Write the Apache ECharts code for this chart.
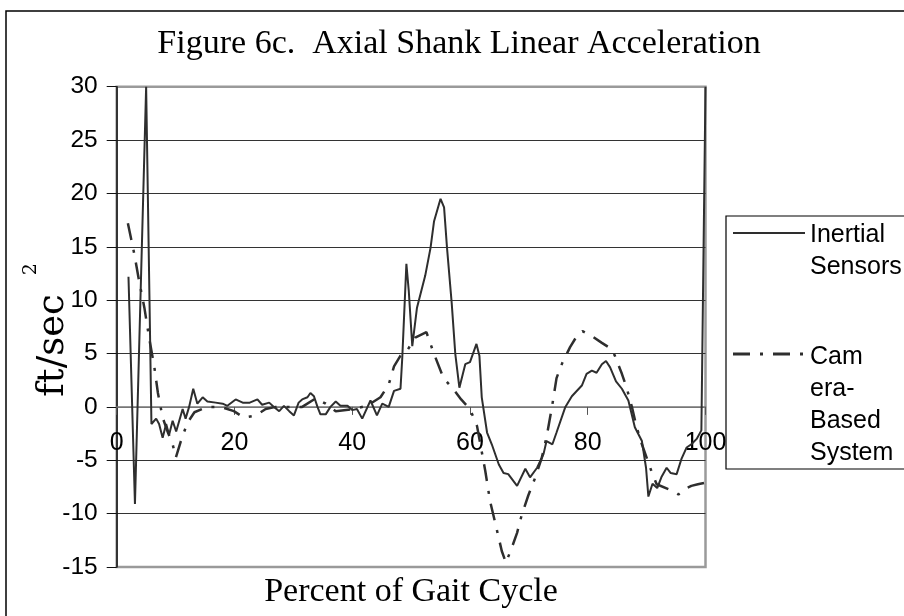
<!DOCTYPE html>
<html>
<head>
<meta charset="utf-8">
<title>Axial Shank Linear Acceleration</title>
<script src="https://cdn.jsdelivr.net/npm/echarts@6/dist/echarts.min.js"></script>
<style>
	html, body { margin: 0; padding: 0; background: #ffffff; }
	#chart { width: 904px; height: 616px; }
</style>
</head>
<body>
<div id="chart"></div>
<script>
	// percent of gait cycle / acceleration (ft/sec^2)
	var inertialX = [2.0, 3.1, 5.0, 5.9, 6.7, 7.2, 7.8, 8.4, 8.9, 9.5, 10.1, 11.2, 11.7, 12.3, 13.0, 13.7, 14.6, 15.4, 16.8, 18.0, 18.8, 20.2,
		21.4, 22.6, 23.9, 24.7, 25.9, 26.7, 27.6, 28.4, 29.3, 30.1, 30.9, 31.5, 32.4, 32.9, 33.5, 34.1, 34.6, 35.5, 36.3, 37.2, 38.0, 39.2,
		40.0, 40.8, 41.7, 43.1, 44.2, 45.1, 46.2, 47.1, 48.2, 48.5, 49.2, 49.6, 50.2, 51.0, 52.4, 53.3, 53.9, 55.0, 55.6, 56.1, 56.9, 57.5,
		58.2, 59.2, 60.0, 61.1, 61.6, 62.0, 62.9, 63.7, 64.9, 65.7, 66.5, 68.0, 69.4, 70.2, 71.4, 72.5, 73.0, 74.0, 74.7, 76.2, 77.3, 79.0,
		79.8, 80.7, 81.5, 82.4, 83.1, 83.8, 84.8, 85.8, 86.9, 88.0, 89.2, 89.9, 90.3, 91.0, 91.8, 92.5, 93.4, 94.1, 95.1, 95.9, 96.8, 97.6,
		98.5, 99.3, 100];
	var inertialY = [12.2, -9.1, 30, -1.6, -1.1, -1.6, -2.9, -1.6, -2.6, -1.3, -2.3, -0.2, -1.1, 0, 1.7, 0.3, 0.9, 0.5, 0.4, 0.3, 0.1, 0.7,
		0.4, 0.4, 0.7, 0.2, 0.4, 0, -0.4, 0.1, -0.4, -0.8, 0.4, 0.7, 0.9, 1.3, 1.0, 0, -0.7, -0.7, 0, 0.5, 0.1, 0.1,
		-0.3, -0.2, -1.1, 0.6, -0.8, 0.3, 0, 1.5, 1.7, 4.6, 13.4, 10.9, 5.7, 9.3, 12.3, 14.9, 17.4, 19.5, 18.7, 14.9, 9.7, 5.0,
		1.8, 4.0, 4.2, 5.9, 4.8, 0.9, -2.4, -3.5, -5.4, -6.2, -6.3, -7.4, -5.8, -6.6, -5.7, -4.4, -3.2, -3.5, -2.4, 0, 1.0, 2.0,
		3.1, 3.4, 3.2, 4.0, 4.3, 3.7, 2.4, 1.7, 0.6, -1.9, -3.2, -5.7, -8.4, -7.2, -7.6, -6.6, -5.7, -6.2, -6.3, -4.9, -3.8, -3.5,
		-3.0, -2.2, 30];

	var cameraX = [1.9, 3.0, 3.8, 4.7, 5.5, 6.4, 7.0, 7.8, 8.6, 9.5, 10.05, 10.9, 12.0, 13.2, 15.4, 17.7, 19.9, 21.6, 23.6, 25.3, 27.0,
		28.7, 30.4, 31.5, 33.8, 35.5, 37.2, 40.3, 42.5, 44.8, 46.2, 47.1, 48.2, 49.3, 50.7, 52.6, 53.8, 55.5, 57.2, 58.5, 60.0, 61.2,
		62.6, 63.4, 64.6, 65.4, 66.1, 67.1, 68.0, 68.8, 69.9, 71.1, 72.2, 73.05, 74.0, 74.7, 75.7, 77.0, 78.0, 79.1, 80.8, 82.4, 84.1,
		84.6, 85.8, 86.6, 87.5, 88.3, 89.2, 90.0, 90.8, 91.7, 93.7, 95.4, 96.8, 97.6, 98.7, 100];
	var cameraY = [17.2, 14.3, 11.8, 9.3, 6.5, 3.7, 1.3, -1.0, -2.25, -3.5, -4.75, -3.2, -1.5, -0.5, 0, 0, -0.4, -1.0, -0.8, -0.2, 0,
		0, 0, 0, 0.8, 0.3, -0.4, -0.2, 0.1, 0.9, 2.1, 3.8, 4.8, 5.25, 6.5, 7.0, 5.1, 2.7, 1.65, 0.7, -0.2, -1.8,
		-6.0, -8.8, -11.6, -13.5, -14.6, -13.2, -11.8, -10.1, -8.3, -6.6, -4.75, -2.7, 0.25, 2.7, 4.15, 5.6, 6.5, 7.1, 6.6, 6.0, 5.4,
		4.8, 3.1, 1.8, 0, -1.9, -3.5, -4.75, -6.0, -7.25, -7.7, -8.2, -7.6, -7.4, -7.25, -7.1];

	var xTicks = { min: 0, max: 100, step: 20 };
	var yTicks = { min: -15, max: 30, step: 5 };
	var seriesNames = ['Inertial Sensors', 'Camera-Based System'];

	function pairs(xs, ys) {
		var out = [];
		for (var i = 0; i < xs.length; i++) {
			out.push([xs[i], ys[i]]);
		}
		return out;
	}

	var serif = '"Liberation Serif", "Times New Roman", serif';
	var wideSerif = '"DejaVu Serif", serif';
	var sans = '"Liberation Sans", Arial, sans-serif';
	var lineColor = '#2e2e2e';

	var gridTop = 86.7;
	var gridHeight = 480.3;
	// the x axis sits on y = 0, not on the bottom of the plot
	var zeroOffset = -gridHeight * (0 - yTicks.min) / (yTicks.max - yTicks.min);

	var chart = echarts.init(document.getElementById('chart'), null, { renderer: 'canvas' });

	var option = {
		animation: false,
		backgroundColor: '#ffffff',
		grid: {
			left: 116.7,
			top: gridTop,
			width: 588.8,
			height: gridHeight,
			containLabel: false,
			outerBoundsMode: 'none',
			show: true,
			borderColor: '#9a9a9a',
			borderWidth: 2.5
		},
		xAxis: {
			type: 'value',
			min: xTicks.min,
			max: xTicks.max,
			interval: xTicks.step,
			offset: zeroOffset,
			axisLine: { onZero: false, lineStyle: { color: '#777777', width: 1.5 } },
			axisTick: { show: true, length: 8, lineStyle: { color: '#555555' } },
			axisLabel: { color: '#000000', fontSize: 25, fontFamily: sans, margin: 24 },
			splitLine: { show: false }
		},
		yAxis: {
			type: 'value',
			min: yTicks.min,
			max: yTicks.max,
			interval: yTicks.step,
			axisLine: { show: true, lineStyle: { color: '#111111', width: 1.5 } },
			axisTick: { show: true, length: 10, lineStyle: { color: '#111111' } },
			axisLabel: { color: '#000000', fontSize: 24.5, fontFamily: sans, margin: 19 },
			splitLine: {
				show: true,
				lineStyle: {
					color: ['#9a9a9a', '#333333', '#333333', '#777777', '#333333', '#333333', '#333333', '#333333', '#333333', '#9a9a9a'],
					width: 1.2
				}
			}
		},
		series: [{
				name: seriesNames[0],
				type: 'line',
				data: pairs(inertialX, inertialY),
				symbol: 'none',
				clip: true,
				lineStyle: { color: lineColor, width: 2 },
				z: 3
			},
			{
				name: seriesNames[1],
				type: 'line',
				data: pairs(cameraX, cameraY),
				symbol: 'none',
				clip: true,
				lineStyle: { color: lineColor, width: 2.5, type: [17, 10, 3, 10] },
				z: 2
			}
		],
		graphic: [
			// outer chart frame
			{
				type: 'rect',
				shape: { x: 6, y: 11, width: 1000, height: 700 },
				style: { fill: 'none', stroke: '#000000', lineWidth: 1.5 },
				silent: true,
				z: -1
			},
			{
				type: 'text',
				x: 459,
				y: 44,
				style: {
					text: 'Figure 6c.  Axial Shank Linear Acceleration',
					font: '34px ' + serif,
					fill: '#000000',
					align: 'center', verticalAlign: 'middle',
					textAlign: 'center', textVerticalAlign: 'middle'
				}
			},
			{
				type: 'text',
				x: 53,
				y: 330,
				rotation: Math.PI / 2,
				style: {
					text: '{main|ft/sec}{sup|2}',
					fill: '#000000',
					align: 'center', verticalAlign: 'middle',
					textAlign: 'center', textVerticalAlign: 'middle',
					rich: {
						main: { fontFamily: wideSerif, fontSize: 37, lineHeight: 62, fill: '#000000' },
						sup: { fontFamily: wideSerif, fontSize: 19, fill: '#000000', verticalAlign: 'top', padding: [0, 0, 0, 19] }
					}
				}
			},
			{
				type: 'text',
				x: 411,
				y: 592,
				style: {
					text: 'Percent of Gait Cycle',
					font: '34px ' + serif,
					fill: '#000000',
					align: 'center', verticalAlign: 'middle',
					textAlign: 'center', textVerticalAlign: 'middle'
				}
			},
			// legend box
			{
				type: 'rect',
				shape: { x: 726, y: 216, width: 300, height: 253 },
				style: { fill: '#ffffff', stroke: '#000000', lineWidth: 1.2 }
			},
			{
				type: 'line',
				shape: { x1: 733, y1: 233, x2: 805, y2: 233 },
				style: { stroke: lineColor, lineWidth: 2 }
			},
			{
				type: 'line',
				shape: { x1: 733, y1: 354, x2: 805, y2: 354 },
				style: { stroke: lineColor, lineWidth: 3, lineDash: [17, 10, 3, 10] }
			},
			{
				type: 'text',
				x: 810,
				y: 219,
				style: {
					text: 'Inertial\nSensors',
					font: '25px ' + sans,
					lineHeight: 32,
					fill: '#000000',
					align: 'left', verticalAlign: 'top',
					textAlign: 'left', textVerticalAlign: 'top'
				}
			},
			{
				type: 'text',
				x: 810,
				y: 341,
				style: {
					text: 'Cam\nera-\nBased\nSystem',
					font: '25px ' + sans,
					lineHeight: 32,
					fill: '#000000',
					align: 'left', verticalAlign: 'top',
					textAlign: 'left', textVerticalAlign: 'top'
				}
			}
		]
	};

	chart.setOption(option);
</script>
</body>
</html>
